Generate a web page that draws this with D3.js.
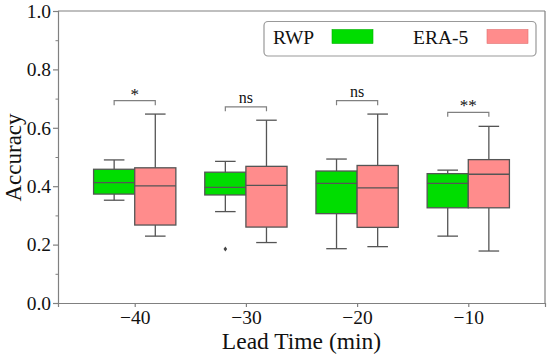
<!DOCTYPE html>
<html><head><meta charset="utf-8">
<script src="https://cdn.jsdelivr.net/npm/d3@7"></script>
<style>body{margin:0;background:#fff}svg{display:block}text{font-family:"Liberation Serif","Times New Roman",Times,serif;fill:#111}</style>
</head><body><svg id="c" width="550" height="357"></svg>
<script>
const categories = [-40, -30, -20, -10];
const seriesNames = ["RWP", "ERA-5"];
// [whiskerLow, Q1, median, Q3, whiskerHigh]
const rwp  = [[0.352,0.373,0.412,0.458,0.490],[0.313,0.370,0.396,0.448,0.485],[0.186,0.306,0.410,0.452,0.493],[0.229,0.326,0.410,0.443,0.455]];
const era5 = [[0.229,0.267,0.401,0.463,0.647],[0.207,0.260,0.403,0.468,0.626],[0.193,0.259,0.394,0.471,0.647],[0.178,0.326,0.441,0.491,0.605]];
const outliersRwp = [[], [0.185], [], []];
const outliersEra = [[], [], [], []];
const sigLabels = ["*", "ns", "ns", "**"];
const sigHeights = [0.693, 0.672, 0.693, 0.653];
const yTicks = [0, 0.2, 0.4, 0.6, 0.8, 1.0];

const colors = ["#00dd00", "#ff8c8c"];
const edge = "#555";
const spine = "#808080";
const FONT = '"Liberation Serif","Times New Roman",Times,serif';
const svg = d3.select("#c");
const L = 58, R = 545, T = 11, B = 303;
const x = d3.scaleLinear().domain([-0.69, 3.69]).range([L, R]);
const y = d3.scaleLinear().domain([0, 1]).range([B, T]);
const bw = x(0.37) - x(0);

// axes
const yAx = svg.append("g").attr("transform", `translate(${L},0)`)
  .call(d3.axisLeft(y).tickValues(yTicks).tickFormat(d3.format(".1f")).tickSize(5).tickPadding(2));
svg.append("g").attr("transform", `translate(${L},0)`)
  .call(d3.axisLeft(y).tickValues(d3.range(0.1, 1, 0.2)).tickFormat("").tickSize(2.5))
  .call(g => g.select(".domain").remove());
const xAx = svg.append("g").attr("transform", `translate(0,${B})`)
  .call(d3.axisBottom(x).tickValues(d3.range(categories.length)).tickFormat(i => "\u2212" + Math.abs(categories[i])).tickSize(4).tickPadding(3));
[yAx, xAx].forEach(g => {
  g.attr("font-family", FONT).attr("font-size", 19.5);
  g.selectAll("text").attr("fill", "#111");
  g.selectAll("line,path").attr("stroke", spine).attr("stroke-width", 1.2);
});
svg.selectAll(".tick line").attr("stroke", spine);
svg.append("line").attr("x1", L).attr("x2", R).attr("y1", T).attr("y2", T).attr("stroke", spine).attr("stroke-width", 1.2);
svg.append("line").attr("x1", R).attr("x2", R).attr("y1", T).attr("y2", B).attr("stroke", spine).attr("stroke-width", 1.2);

// boxes
const series = [rwp, era5];
const outs = [outliersRwp, outliersEra];
series.forEach((data, s) => {
  data.forEach((d, i) => {
    const x0 = s === 0 ? x(i) - bw : x(i);
    const cx = x0 + bw / 2;
    const g = svg.append("g");
    g.append("line").attr("x1", cx).attr("x2", cx).attr("y1", y(d[0])).attr("y2", y(d[1])).attr("stroke", edge).attr("stroke-width", 1.3);
    g.append("line").attr("x1", cx).attr("x2", cx).attr("y1", y(d[3])).attr("y2", y(d[4])).attr("stroke", edge).attr("stroke-width", 1.3);
    [d[0], d[4]].forEach(v => g.append("line").attr("x1", cx - bw / 4).attr("x2", cx + bw / 4).attr("y1", y(v)).attr("y2", y(v)).attr("stroke", edge).attr("stroke-width", 1.3));
    g.append("rect").attr("x", x0).attr("width", bw).attr("y", y(d[3])).attr("height", y(d[1]) - y(d[3]))
      .attr("fill", colors[s]).attr("stroke", edge).attr("stroke-width", 1.3);
    g.append("line").attr("x1", x0).attr("x2", x0 + bw).attr("y1", y(d[2])).attr("y2", y(d[2])).attr("stroke", edge).attr("stroke-width", 1.3);
    outs[s][i].forEach(v => {
      const py = y(v);
      g.append("path").attr("d", `M${cx},${py - 2.6}L${cx + 1.8},${py}L${cx},${py + 2.6}L${cx - 1.8},${py}Z`).attr("fill", "#444");
    });
  });
});

// significance brackets
categories.forEach((c, i) => {
  const xa = x(i) - bw / 2, xb = x(i) + bw / 2, yy = y(sigHeights[i]);
  svg.append("path").attr("d", `M${xa},${yy + 4.5}V${yy}H${xb}V${yy + 4.5}`).attr("fill", "none").attr("stroke", spine).attr("stroke-width", 1.2);
  svg.append("text").attr("x", x(i)).attr("y", sigLabels[i].includes("*") ? yy - 1 : yy - 4)
    .attr("text-anchor", "middle").style("font-size", sigLabels[i].includes("*") ? "17px" : "16px")
    .attr("fill", "#333").text(sigLabels[i]);
});

// axis labels
svg.append("text").attr("x", (L + R) / 2).attr("y", 349).attr("text-anchor", "middle").style("font-size", "23.5px").text("Lead Time (min)");
svg.append("text").attr("transform", "translate(20.5,157.5) rotate(-90)").attr("text-anchor", "middle").style("font-size", "23px").text("Accuracy");

// legend
const lg = svg.append("g");
lg.append("rect").attr("x", 264).attr("y", 21.5).attr("width", 272).attr("height", 34.5).attr("rx", 4)
  .attr("fill", "#fff").attr("stroke", "#999").attr("stroke-width", 1.2);
const legX = [273, 413], swX = [332, 487];
seriesNames.forEach((n, k) => {
  lg.append("text").attr("x", legX[k]).attr("y", 44).style("font-size", "19.5px").text(n);
  lg.append("rect").attr("x", swX[k]).attr("y", 29.5).attr("width", 41).attr("height", 14).attr("fill", colors[k]).attr("stroke", k === 0 ? "#00b000" : "#e07070").attr("stroke-width", 0.6);
});
</script></body></html>
